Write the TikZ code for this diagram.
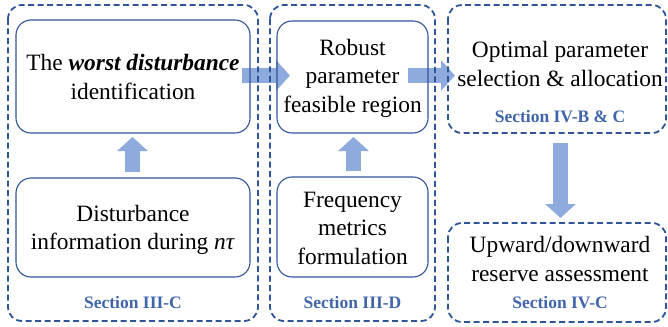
\documentclass[tikz,border=0pt]{standalone}
\usepackage{fontspec}
\setmainfont{Liberation Serif}
\usetikzlibrary{arrows.meta}
\definecolor{frameblue}{HTML}{2F5597}
\definecolor{labelblue}{HTML}{4165AA}
\definecolor{arrowblue}{HTML}{8FAADC}
\tikzset{
  group/.style={draw=frameblue, line width=1.8pt, dash pattern=on 6pt off 3.5pt,
    rounded corners=14pt},
  stage/.style={draw=frameblue, line width=1.1pt, rounded corners=15pt},
  body/.style={font=\fontsize{23.4}{28.5}\selectfont, align=center, inner sep=0pt},
  tag/.style={font=\fontsize{17.5}{19}\selectfont\bfseries, text=labelblue, inner sep=0pt},
  flow/.style={draw=arrowblue, line width=15pt,
    -{Triangle[length=14pt, width=30pt]}},
}
\begin{document}
\begin{tikzpicture}[x=1pt, y=-1pt]
  \useasboundingbox (0,0) rectangle (668,326);

  % anchor points of the block arrows
  \coordinate (u1s) at (132.5,172); \coordinate (u1e) at (132.5,137);
  \coordinate (u2s) at (353.5,171); \coordinate (u2e) at (353.5,137);
  \coordinate (r1s) at (242,75.5);  \coordinate (r1e) at (290,75.5);
  \coordinate (r2s) at (408,75.5);  \coordinate (r2e) at (455,75.5);
  \coordinate (d1s) at (560.5,143); \coordinate (d1e) at (560.5,218);

  % block arrows (drawn first so the frames stay on top)
  \draw[flow] (u1s) -- (u1e);
  \draw[flow] (u2s) -- (u2e);
  \draw[flow] (r1s) -- (r1e);
  \draw[flow] (r2s) -- (r2e);
  \draw[flow] (d1s) -- (d1e);

  % dashed section frames
  \draw[group] (8,5) rectangle (258,321);
  \draw[group] (270,5) rectangle (435,321);
  \draw[group] (448,5) rectangle (666,133);
  \draw[group] (448,223) rectangle (666,322);

  % stage boxes
  \draw[stage] (16,20) rectangle (250,133);
  \draw[stage] (16,178) rectangle (250,277);
  \draw[stage] (277,21) rectangle (428,133);
  \draw[stage] (277,177) rectangle (428,277);

  % texts
  \node[body] (worst) at (133,77) {The \textbf{\textit{worst disturbance}}\\identification};
  \node[body] (info) at (133,230) {Disturbance\\information during \textit{nτ}};
  \node[body] (robust) at (352.5,78) {Robust\\parameter\\feasible region};
  \node[body] (freq) at (352.5,228) {Frequency\\metrics\\formulation};
  \node[body] (optim) at (560,64) {Optimal parameter\\selection \& allocation};
  \node[body] (reserve) at (560,259) {Upward/downward\\reserve assessment};

  \node[tag] (tagA) at (133,303) {Section III-C};
  \node[tag] (tagB) at (352.5,303) {Section III-D};
  \node[tag] (tagC) at (560,117) {Section IV-B \& C};
  \node[tag] (tagD) at (560,303) {Section IV-C};
\end{tikzpicture}
\end{document}
